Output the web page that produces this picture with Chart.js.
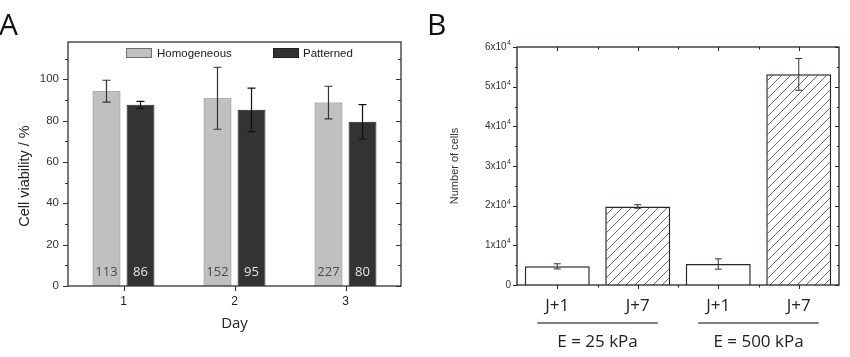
<!DOCTYPE html>
<html><head><meta charset="utf-8">
<script src="https://cdn.jsdelivr.net/npm/chart.js@4.4.1/dist/chart.umd.min.js"></script>
<style>
html,body{margin:0;padding:0;background:#fff;width:850px;height:357px;overflow:hidden}
.wrap{position:absolute;top:0;height:357px;width:425px}
#wa{left:0}#wb{left:425px}
canvas{display:block}
</style></head><body>
<div class="wrap" id="wa"><canvas id="ca" width="425" height="357"></canvas></div>
<div class="wrap" id="wb"><canvas id="cb" width="425" height="357"></canvas></div>
<script>
// ---------- Panel A data ----------
const daysA = ['1', '2', '3'];
const seriesNamesA = ['Homogeneous', 'Patterned'];
const homogeneousMean = [94.2, 90.8, 88.7];
const homogeneousErr = [5.3, 15.0, 7.9];
const patternedMean = [87.6, 85.2, 79.4];
const patternedErr = [1.7, 10.5, 8.3];
const homogeneousN = ['113', '152', '227'];
const patternedN = ['86', '95', '80'];
const yMaxA = 118;
const yLabelA = 'Cell viability / %';
const xLabelA = 'Day';

// ---------- Panel B data ----------
const conditionsB = ['J+1', 'J+7', 'J+1', 'J+7'];
const groupsB = ['E = 25 kPa', 'E = 500 kPa'];
const cellsMean = [4700, 19800, 5300, 53100];
const cellsErr = [650, 450, 1300, 4000];
const yTickMantissaB = ['0', '1', '2', '3', '4', '5', '6'];
const yTickExponentB = '4';
const yMaxB = 60000;
const yLabelB = 'Number of cells';

const panelLabels = ['A', 'B'];

// ---------- shared helpers ----------
function line(ctx, x1, y1, x2, y2) { ctx.moveTo(x1, y1); ctx.lineTo(x2, y2); }

const errorBarPlugin = {
  id: 'errorBars',
  afterDatasetsDraw(chart) {
    const ctx = chart.ctx, ys = chart.scales.y;
    chart.data.datasets.forEach((ds, i) => {
      if (!ds.errors) return;
      const meta = chart.getDatasetMeta(i);
      meta.data.forEach((el, j) => {
        const v = ds.data[j], e = ds.errors[j];
        const yt = ys.getPixelForValue(v + e), yb = ys.getPixelForValue(v - e);
        const cap = ds.errCap;
        ctx.save();
        ctx.strokeStyle = ds.errColor; ctx.lineWidth = ds.errWidth;
        ctx.beginPath();
        line(ctx, el.x, yt, el.x, yb);
        line(ctx, el.x - cap, yt, el.x + cap, yt);
        line(ctx, el.x - cap, yb, el.x + cap, yb);
        ctx.stroke();
        ctx.restore();
      });
    });
  }
};

// ---------- Panel A ----------
const panelAPlugin = {
  id: 'panelA',
  afterDraw(chart) {
    const ctx = chart.ctx, a = chart.chartArea, ys = chart.scales.y, xs = chart.scales.x;
    ctx.save();
    ctx.strokeStyle = '#333'; ctx.lineWidth = 1.3;
    ctx.strokeRect(a.left, a.top, a.right - a.left, a.bottom - a.top);
    ctx.beginPath();
    ys.ticks.forEach(t => {
      const y = Math.round(ys.getPixelForValue(t.value)) + 0.5;
      const major = t.value % 20 === 0;
      const L = major ? 5 : 3;
      line(ctx, a.left - L, y, a.left, y);
      line(ctx, a.right, y, a.right - L, y);
    });
    xs.ticks.forEach((t, i) => {
      const x = Math.round(xs.getPixelForValue(i)) + 0.5;
      line(ctx, x, a.bottom, x, a.bottom + 5);
    });
    ctx.lineWidth = 1.1; ctx.stroke();

    const ds = chart.data.datasets;
    const legendItems = [{ x: 126, tx: 157 }, { x: 273, tx: 303 }];
    ctx.font = '11.5px "Liberation Sans", Arial, sans-serif';
    ctx.textBaseline = 'middle'; ctx.textAlign = 'left';
    legendItems.forEach((p, i) => {
      ctx.fillStyle = ds[i].backgroundColor;
      ctx.fillRect(p.x, 48, 26, 10);
      ctx.strokeStyle = ds[i].borderColor; ctx.lineWidth = 1;
      ctx.strokeRect(p.x + 0.5, 48.5, 25, 9);
      ctx.fillStyle = '#222';
      ctx.fillText(ds[i].label, p.tx, 53.5);
    });

    ctx.font = '13px "Open Sans", sans-serif';
    ctx.textAlign = 'center';
    const y0 = ys.getPixelForValue(0);
    ds.forEach((d, i) => {
      const meta = chart.getDatasetMeta(i);
      meta.data.forEach((el, j) => {
        ctx.fillStyle = d.countColor;
        ctx.fillText(d.counts[j], el.x, y0 - 14);
      });
    });

    ctx.fillStyle = '#222';
    ctx.font = '15px "Open Sans", sans-serif';
    ctx.fillText(xLabelA, (a.left + a.right) / 2, 324);
    ctx.save();
    ctx.translate(25, 176); ctx.rotate(-Math.PI / 2);
    ctx.font = '14.5px "Liberation Sans", Arial, sans-serif';
    ctx.fillText(yLabelA, 0, 0);
    ctx.restore();

    ctx.font = '30px "Open Sans", sans-serif';
    ctx.textAlign = 'left'; ctx.textBaseline = 'alphabetic';
    ctx.fillStyle = '#111';
    ctx.fillText(panelLabels[0], -1, 35);
    ctx.restore();
  }
};

new Chart(document.getElementById('ca'), {
  type: 'bar',
  data: {
    labels: daysA,
    datasets: [
      { label: seriesNamesA[0], data: homogeneousMean, errors: homogeneousErr, counts: homogeneousN,
        backgroundColor: '#c0c0c0', borderColor: '#6e6e6e', borderWidth: 1, countColor: '#4a4a4a',
        errColor: '#333', errWidth: 1.2, errCap: 4,
        barPercentage: 0.82, categoryPercentage: 0.613 },
      { label: seriesNamesA[1], data: patternedMean, errors: patternedErr, counts: patternedN,
        backgroundColor: '#333333', borderColor: '#1e1e1e', borderWidth: 1, countColor: '#e6e6e6',
        errColor: '#111', errWidth: 1.2, errCap: 4,
        barPercentage: 0.82, categoryPercentage: 0.613 }
    ]
  },
  options: {
    responsive: false, animation: false, devicePixelRatio: 1,
    layout: { padding: { top: 42, right: 24, left: 0, bottom: 0 } },
    plugins: { legend: { display: false }, tooltip: { enabled: false } },
    scales: {
      x: {
        grid: { display: false, drawTicks: false }, border: { display: false },
        ticks: { color: '#222', font: { size: 12, family: '"Liberation Sans", Arial, sans-serif' }, padding: 8 },
        afterFit(s) { s.height = 71; }
      },
      y: {
        min: 0, max: yMaxA,
        grid: { display: false, drawTicks: false }, border: { display: false },
        afterBuildTicks(s) { const t = []; for (let v = 0; v <= 110; v += 10) t.push({ value: v }); s.ticks = t; },
        ticks: { autoSkip: false, color: '#333', font: { size: 11.5, family: '"Liberation Sans", Arial, sans-serif' }, padding: 9,
          callback: v => (v % 20 === 0 ? String(v) : '') },
        afterFit(s) { s.width = 68; }
      }
    }
  },
  plugins: [errorBarPlugin, panelAPlugin]
});

// ---------- Panel B ----------
function hatchPattern() {
  const s = 9;
  const c = document.createElement('canvas'); c.width = s; c.height = s;
  const g = c.getContext('2d');
  g.fillStyle = '#fff'; g.fillRect(0, 0, s, s);
  g.strokeStyle = '#6a6a6a'; g.lineWidth = 1;
  g.beginPath();
  g.moveTo(0, s); g.lineTo(s, 0);
  g.moveTo(-s / 2, s / 2); g.lineTo(s / 2, -s / 2);
  g.moveTo(s / 2, s * 1.5); g.lineTo(s * 1.5, s / 2);
  g.stroke();
  return g.createPattern(c, 'repeat');
}
const hatch = hatchPattern();

const panelBPlugin = {
  id: 'panelB',
  afterDraw(chart) {
    const ctx = chart.ctx, a = chart.chartArea, ys = chart.scales.y, xs = chart.scales.x;
    ctx.save();
    ctx.strokeStyle = '#2b2222'; ctx.lineWidth = 1.3;
    ctx.strokeRect(a.left, a.top, a.right - a.left, a.bottom - a.top);
    ctx.beginPath();
    ys.ticks.forEach(t => {
      const y = Math.round(ys.getPixelForValue(t.value)) + 0.5;
      const L = t.value % 10000 === 0 ? 4 : 2;
      line(ctx, a.left - L, y, a.left, y);
      line(ctx, a.right, y, a.right - L, y);
    });
    const n = xs.ticks.length;
    for (let i = 0; i < n; i++) {
      const x = Math.round(xs.getPixelForValue(i)) + 0.5;
      line(ctx, x, a.bottom, x, a.bottom + 4);
      line(ctx, x, a.top, x, a.top + 4);
      if (i < n - 1) {
        const xm = Math.round((xs.getPixelForValue(i) + xs.getPixelForValue(i + 1)) / 2) + 0.5;
        line(ctx, xm, a.bottom, xm, a.bottom + 2.5);
        line(ctx, xm, a.top, xm, a.top + 2.5);
      }
    }
    ctx.lineWidth = 1; ctx.stroke();

    // y tick labels with superscript exponent
    ctx.fillStyle = '#333';
    ctx.textBaseline = 'middle';
    ys.ticks.forEach(t => {
      if (t.value % 10000 !== 0) return;
      const y = ys.getPixelForValue(t.value);
      const m = yTickMantissaB[t.value / 10000];
      const xr = a.left - 6;
      if (t.value === 0) {
        ctx.font = '10px "Liberation Sans", Arial, sans-serif';
        ctx.textAlign = 'right';
        ctx.fillText(m, xr, y);
        return;
      }
      ctx.font = '7px "Liberation Sans", Arial, sans-serif';
      const ew = ctx.measureText(yTickExponentB).width;
      ctx.textAlign = 'left';
      ctx.fillText(yTickExponentB, xr - ew, y - 4);
      ctx.font = '10px "Liberation Sans", Arial, sans-serif';
      ctx.textAlign = 'right';
      ctx.fillText(m + 'x10', xr - ew - 0.5, y);
    });

    ctx.strokeStyle = '#555'; ctx.lineWidth = 1.5;
    ctx.fillStyle = '#222';
    ctx.font = '17px "Open Sans", sans-serif';
    ctx.textAlign = 'center'; ctx.textBaseline = 'middle';
    groupsB.forEach((g, k) => {
      const x1 = xs.getPixelForValue(2 * k), x2 = xs.getPixelForValue(2 * k + 1);
      ctx.beginPath();
      line(ctx, x1 - 20, 323, x2 + 20, 323);
      ctx.stroke();
      ctx.fillText(g, (x1 + x2) / 2, 342);
    });

    ctx.save();
    ctx.translate(30, (a.top + a.bottom) / 2); ctx.rotate(-Math.PI / 2);
    ctx.font = '11px "Liberation Sans", Arial, sans-serif';
    ctx.fillStyle = '#333';
    ctx.fillText(yLabelB, 0, 0);
    ctx.restore();

    ctx.font = '30px "Open Sans", sans-serif';
    ctx.textAlign = 'left'; ctx.textBaseline = 'alphabetic';
    ctx.fillStyle = '#111';
    ctx.fillText(panelLabels[1], 2, 35);
    ctx.restore();
  }
};

new Chart(document.getElementById('cb'), {
  type: 'bar',
  data: {
    labels: conditionsB,
    datasets: [{
      label: yLabelB, data: cellsMean, errors: cellsErr,
      backgroundColor: ['#ffffff', hatch, '#ffffff', hatch],
      borderColor: '#2b2222', borderWidth: 1.5,
      errColor: '#333', errWidth: 1, errCap: 3.5,
      barPercentage: 0.807, categoryPercentage: 1
    }]
  },
  options: {
    responsive: false, animation: false, devicePixelRatio: 1,
    layout: { padding: { top: 47, right: 11, left: 0, bottom: 0 } },
    plugins: { legend: { display: false }, tooltip: { enabled: false } },
    scales: {
      x: {
        grid: { display: false, drawTicks: false }, border: { display: false },
        ticks: { color: '#222', font: { size: 17, family: '"Open Sans", sans-serif' }, padding: 11 },
        afterFit(s) { s.height = 72; }
      },
      y: {
        min: 0, max: yMaxB,
        grid: { display: false, drawTicks: false }, border: { display: false },
        afterBuildTicks(s) { const t = []; for (let v = 0; v <= yMaxB; v += 5000) t.push({ value: v }); s.ticks = t; },
        ticks: { display: false },
        afterFit(s) { s.width = 92; }
      }
    }
  },
  plugins: [errorBarPlugin, panelBPlugin]
});
</script>
</body></html>
